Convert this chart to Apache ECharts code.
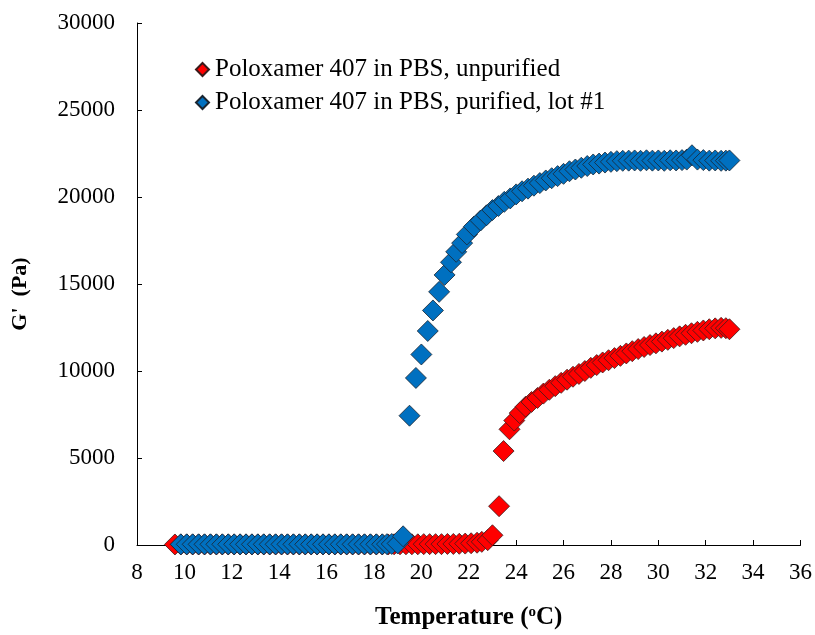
<!DOCTYPE html>
<html>
<head>
<meta charset="utf-8">
<script src="https://cdn.jsdelivr.net/npm/echarts@6/dist/echarts.min.js"></script>
<style>
html,body{margin:0;padding:0;background:#fff;}
#chart{width:815px;height:635px;}
</style>
</head>
<body>
<div id="chart"></div>
<script>
var seriesNames = ['Poloxamer 407 in PBS, unpurified', 'Poloxamer 407 in PBS, purified, lot #1'];
var xTicks = [8, 10, 12, 14, 16, 18, 20, 22, 24, 26, 28, 30, 32, 34, 36];
var yTicks = [0, 5000, 10000, 15000, 20000, 25000, 30000];

var redT = [9.6, 9.85, 10.1, 10.35, 10.6, 10.85, 11.1, 11.35, 11.6, 11.85, 12.1, 12.35, 12.6, 12.85, 13.1, 13.35, 13.6, 13.85, 14.1, 14.35, 14.6, 14.85, 15.1, 15.35, 15.6, 15.85, 16.1, 16.35, 16.6, 16.85, 17.1, 17.35, 17.6, 17.85, 18.1, 18.35, 18.6, 18.85, 19.1, 19.35, 19.6, 19.85, 20.1, 20.35, 20.6, 20.85, 21.1, 21.35, 21.6, 21.85, 22.1, 22.35, 22.55, 22.8, 23.0, 23.28, 23.47, 23.72, 23.92, 24.15, 24.4, 24.65, 24.9, 25.15, 25.4, 25.65, 25.9, 26.15, 26.4, 26.65, 26.9, 27.15, 27.4, 27.65, 27.9, 28.15, 28.4, 28.65, 28.9, 29.15, 29.4, 29.65, 29.9, 30.15, 30.4, 30.65, 30.9, 31.15, 31.4, 31.65, 31.9, 32.15, 32.4, 32.65, 32.85, 33.0];
var redG = [30, 30, 30, 30, 30, 30, 30, 30, 30, 30, 30, 30, 30, 30, 30, 30, 30, 30, 30, 30, 30, 30, 30, 30, 30, 30, 30, 30, 30, 30, 30, 30, 30, 30, 30, 30, 30, 40, 40, 40, 40, 40, 50, 50, 50, 50, 60, 60, 70, 80, 100, 130, 180, 280, 560, 2230, 5400, 6650, 7150, 7580, 7950, 8220, 8450, 8700, 8920, 9130, 9320, 9500, 9670, 9830, 10000, 10180, 10340, 10490, 10620, 10740, 10870, 11010, 11140, 11260, 11380, 11490, 11590, 11690, 11790, 11890, 11990, 12080, 12170, 12250, 12330, 12400, 12450, 12480, 12460, 12400];

var blueT = [9.85, 10.1, 10.35, 10.6, 10.85, 11.1, 11.35, 11.6, 11.85, 12.1, 12.35, 12.6, 12.85, 13.1, 13.35, 13.6, 13.85, 14.1, 14.35, 14.6, 14.85, 15.1, 15.35, 15.6, 15.85, 16.1, 16.35, 16.6, 16.85, 17.1, 17.35, 17.6, 17.85, 18.1, 18.35, 18.55, 18.75, 19.0, 19.23, 19.5, 19.77, 20.0, 20.27, 20.49, 20.75, 20.98, 21.25, 21.47, 21.72, 21.92, 22.22, 22.5, 22.75, 23.0, 23.25, 23.5, 23.75, 24.0, 24.25, 24.5, 24.75, 25.0, 25.25, 25.5, 25.75, 26.0, 26.25, 26.5, 26.75, 27.0, 27.25, 27.5, 27.75, 28.0, 28.25, 28.5, 28.75, 29.0, 29.25, 29.5, 29.75, 30.0, 30.25, 30.5, 30.75, 31.0, 31.2, 31.42, 31.65, 31.9, 32.15, 32.4, 32.65, 32.85, 33.0];
var blueG = [40, 40, 40, 40, 40, 40, 40, 40, 40, 40, 40, 40, 40, 40, 40, 40, 40, 40, 40, 40, 40, 40, 40, 40, 40, 40, 40, 40, 40, 40, 40, 40, 40, 40, 40, 50, 60, 90, 500, 7430, 9600, 10950, 12300, 13480, 14550, 15520, 16250, 16850, 17350, 17850, 18300, 18650, 18950, 19250, 19480, 19720, 19920, 20150, 20330, 20480, 20650, 20800, 20950, 21080, 21200, 21330, 21480, 21580, 21680, 21780, 21870, 21920, 21980, 22020, 22060, 22080, 22090, 22100, 22080, 22110, 22090, 22100, 22080, 22110, 22100, 22120, 22150, 22400, 22150, 22120, 22090, 22100, 22080, 22090, 22100];

function zip(a, b) { var o = []; for (var i = 0; i < a.length; i++) o.push([a[i], b[i]]); return o; }

var FONT = '"Liberation Serif", "Times New Roman", serif';
var chart = echarts.init(document.getElementById('chart'), null, {renderer: 'canvas'});
chart.setOption({
  animation: false,
  backgroundColor: '#ffffff',
  grid: {left: 137, right: 11, top: 23, bottom: 75, containLabel: false},
  legend: {
    orient: 'vertical', left: 195, top: 57, itemWidth: 13, itemHeight: 13, itemGap: 8,
    padding: 0, icon: 'diamond',
    data: seriesNames,
    textStyle: {fontFamily: FONT, fontSize: 25, color: '#000', lineHeight: 25, padding: [0, 0, 0, 1]}
  },
  xAxis: {
    type: 'value', min: xTicks[0], max: xTicks[xTicks.length - 1], interval: 2,
    name: 'Temperature ({s|o}C)', nameLocation: 'middle', nameGap: 60,
    nameTextStyle: {fontFamily: FONT, fontSize: 25, fontWeight: 'bold', color: '#000',
      rich: {s: {fontFamily: FONT, fontSize: 15, fontWeight: 'bold', verticalAlign: 'top', padding: [0, 0, 10, 0], color: '#000'}}},
    axisLine: {lineStyle: {color: '#000', width: 1}},
    axisTick: {inside: true, length: 5, lineStyle: {color: '#000'}},
    axisLabel: {fontFamily: FONT, fontSize: 23, color: '#000', margin: 16},
    splitLine: {show: false}
  },
  yAxis: {
    type: 'value', min: yTicks[0], max: yTicks[yTicks.length - 1], interval: 5000,
    name: "G'  (Pa)", nameLocation: 'middle', nameGap: 106,
    nameTextStyle: {fontFamily: FONT, fontSize: 22, fontWeight: 'bold', color: '#000', padding: [0, 20, 0, 0]},
    axisLine: {show: true, lineStyle: {color: '#000', width: 1}},
    axisTick: {show: true, inside: true, length: 5, lineStyle: {color: '#000'}},
    axisLabel: {fontFamily: FONT, fontSize: 23, color: '#000', margin: 22,
      formatter: function (v) { return String(v); }},
    splitLine: {show: false}
  },
  series: [
    {
      name: seriesNames[0], type: 'scatter', symbol: 'diamond', symbolSize: 21,
      itemStyle: {color: '#FF0000', borderColor: '#3a1a1a', borderWidth: 0.8, opacity: 1},
      data: zip(redT, redG)
    },
    {
      name: seriesNames[1], type: 'scatter', symbol: 'diamond', symbolSize: 21,
      itemStyle: {color: '#0070C0', borderColor: '#1a2530', borderWidth: 0.8, opacity: 1},
      data: zip(blueT, blueG)
    }
  ]
});
</script>
</body>
</html>
